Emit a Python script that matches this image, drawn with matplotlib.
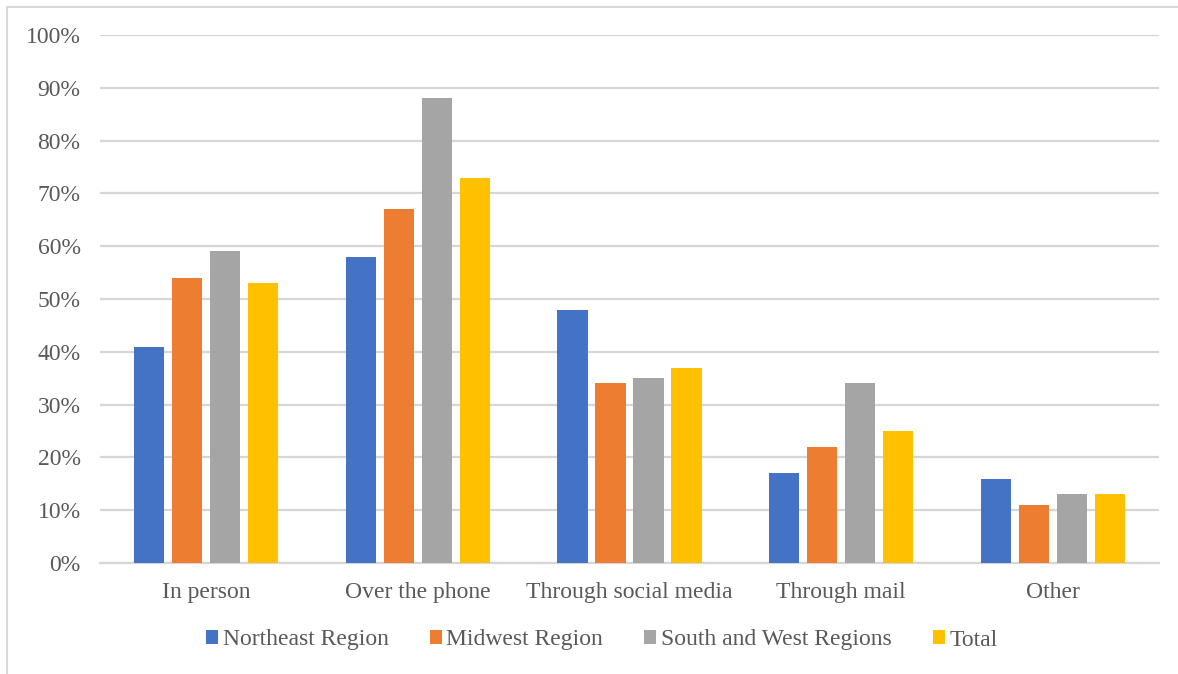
import numpy as np
import matplotlib.pyplot as plt
from matplotlib.patches import Rectangle
from matplotlib.ticker import PercentFormatter

# Survey results by contact method and region
categories = ['In person', 'Over the phone', 'Through social media', 'Through mail', 'Other']
series_names = ['Northeast Region', 'Midwest Region', 'South and West Regions', 'Total']
northeast = [41, 58, 48, 17, 16]
midwest = [54, 67, 34, 22, 11]
south_west = [59, 88, 35, 34, 13]
total = [53, 73, 37, 25, 13]
colors = ['#4472C4', '#ED7D31', '#A5A5A5', '#FFC000']

plt.rcParams['font.family'] = ['Liberation Serif', 'DejaVu Serif']

fig = plt.figure(figsize=(11.78, 6.74), dpi=100)
ax = fig.add_axes([100 / 1178, 1 - 563 / 674, 1059 / 1178, 528 / 674])

x = np.arange(len(categories))
width = 0.142
step = 0.1795
for i, (vals, name) in enumerate(zip([northeast, midwest, south_west, total], series_names)):
    ax.bar(x + (i - 1.5) * step, vals, width, color=colors[i], label=name, zorder=3)

ax.set_xlim(-0.5, len(categories) - 0.5)
ax.set_ylim(0, 100)
ax.set_yticks(np.arange(0, 101, 10))
ax.yaxis.set_major_formatter(PercentFormatter(decimals=0))
ax.set_xticks(x)
ax.set_xticklabels(categories)
ax.grid(axis='y', color='#d6d6d6', linewidth=1.6, zorder=0)
for side in ['top', 'right', 'left']:
    ax.spines[side].set_visible(False)
ax.spines['bottom'].set_color('#d6d6d6')
ax.spines['bottom'].set_linewidth(1.6)
ax.tick_params(axis='both', length=0, labelsize=17, labelcolor='#595959')
ax.tick_params(axis='y', pad=14)
ax.tick_params(axis='x', pad=14)

fig.legend(loc='center', bbox_to_anchor=(602 / 1178, 1 - 640 / 674), ncol=4, frameon=False,
           fontsize=17, labelcolor='#595959', handlelength=0.5, handleheight=0.5,
           handletextpad=0.2, columnspacing=1.75)

# chart border (left and top edges)
fig.patches.append(Rectangle((7 / 1178, -0.1), 1.2, 1.1 - 7 / 674, transform=fig.transFigure,
                             fill=False, edgecolor='#d9d9d9', linewidth=1.5))

fig.savefig('out.png', dpi=100)
